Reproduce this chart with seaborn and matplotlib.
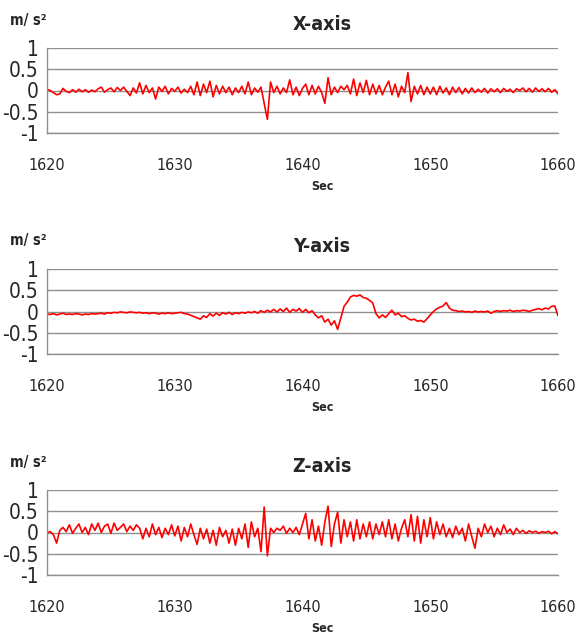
import numpy as np
import pandas as pd
import matplotlib
matplotlib.use("Agg")
import matplotlib.pyplot as plt
import seaborn as sns

# sample times, one reading every 0.25 s from 1620 s to 1660 s
time_s = np.linspace(1620, 1660, 161)

# acceleration, m/s^2 (8 samples = 2 s per row)
x_acc = [
    0.03, 0.0, -0.05, -0.1, -0.08, 0.05, -0.02, -0.05,
    0.02, -0.04, 0.03, -0.03, 0.02, -0.04, 0.01, -0.03,
    0.04, 0.08, -0.04, 0.02, 0.06, -0.03, 0.07, 0.0,
    0.08, -0.02, -0.12, 0.06, -0.06, 0.18, -0.08, 0.12,
    -0.05, 0.06, -0.2, 0.08, -0.02, 0.1, -0.08, 0.05,
    -0.02, 0.08, -0.06, 0.03, -0.05, 0.1, -0.1, 0.2,
    -0.12, 0.15, -0.05, 0.22, -0.15, 0.12, -0.08, 0.1,
    -0.05, 0.08, -0.1, 0.06, -0.05, 0.1, -0.08, 0.2,
    -0.1, 0.06, -0.04, 0.08, -0.3, -0.68, 0.2, -0.05,
    0.1, -0.08, 0.06, -0.05, 0.25, -0.1, 0.08, -0.12,
    0.05, 0.15, -0.1, 0.12, -0.08, 0.1, -0.05, -0.3,
    0.3, -0.1, 0.08, -0.05, 0.1, 0.02, 0.12, -0.08,
    0.27, -0.12, 0.18, -0.05, 0.24, -0.1, 0.15, -0.08,
    0.12, -0.1, 0.08, 0.22, -0.1, 0.15, -0.15, 0.1,
    -0.05, 0.42, -0.26, 0.1, -0.08, 0.12, -0.1, 0.08,
    -0.08, 0.08, -0.1, 0.1, -0.06, 0.06, -0.1, 0.08,
    -0.05, 0.07, -0.08, 0.05, -0.06, 0.06, -0.05, 0.03,
    -0.04, 0.05, -0.06, 0.04, -0.03, 0.04, -0.05, 0.05,
    -0.02, 0.03, -0.05, 0.04, 0.0, 0.06, -0.03, 0.05,
    -0.04, 0.06, -0.02, 0.04, -0.03, 0.05, -0.04, 0.02,
    -0.08,
]

y_acc = [
    -0.06, -0.07, -0.05, -0.08, -0.06, -0.04, -0.07, -0.06,
    -0.07, -0.05, -0.06, -0.08, -0.06, -0.07, -0.05, -0.06,
    -0.05, -0.04, -0.06, -0.03, -0.04, -0.02, -0.03, -0.01,
    -0.02, -0.03, -0.01, -0.02, -0.03, -0.02, -0.04, -0.03,
    -0.05, -0.03, -0.04, -0.06, -0.04, -0.05, -0.03, -0.05,
    -0.04, -0.03, -0.02, -0.05, -0.06, -0.09, -0.12, -0.15,
    -0.18, -0.1, -0.14, -0.05, -0.11, -0.04, -0.09, -0.03,
    -0.06, -0.02, -0.07, -0.03, -0.05, -0.02, -0.04, -0.01,
    -0.03, 0.0, -0.04, 0.02, -0.02, 0.03, -0.01, 0.05,
    -0.01, 0.06, 0.0, 0.08, -0.02, 0.05, 0.01, 0.07,
    -0.02, 0.05, -0.03, 0.02, -0.08, -0.15, -0.1, -0.25,
    -0.18, -0.32, -0.22, -0.42, -0.15, 0.12, 0.22, 0.34,
    0.38, 0.36, 0.39, 0.33, 0.31, 0.26, 0.2, -0.05,
    -0.15, -0.08, -0.14, -0.05, 0.03, -0.08, -0.04, -0.12,
    -0.1, -0.16, -0.2, -0.18, -0.23, -0.21, -0.25, -0.17,
    -0.08, 0.0, 0.06, 0.1, 0.13, 0.21, 0.08, 0.03,
    0.02, 0.0, 0.01, -0.01, 0.0, -0.02, 0.01, -0.01,
    0.0, -0.01, 0.01, -0.04, 0.0, 0.02, 0.0, 0.02,
    0.01, 0.03, 0.0, 0.02, 0.01, 0.03, 0.02, 0.0,
    0.03, 0.05, 0.07, 0.04, 0.08, 0.06, 0.12, 0.13,
    -0.1,
]

z_acc = [
    0.0, 0.02, -0.05, -0.25, 0.05, 0.12, 0.02, 0.18,
    -0.02, 0.1, 0.2, 0.0, 0.12, -0.05, 0.2, 0.05,
    0.22, 0.0, 0.15, 0.2, -0.02, 0.22, 0.05, 0.12,
    0.2, 0.02, 0.15, 0.05, 0.18, 0.1, -0.15, 0.1,
    -0.1, 0.2, -0.05, 0.12, -0.12, 0.1, -0.05, 0.18,
    -0.08, 0.15, -0.2, 0.12, -0.1, 0.2, -0.05, -0.28,
    0.1, -0.15, 0.08, -0.25, 0.05, -0.3, 0.12, -0.1,
    0.05, -0.25, 0.08, -0.3, 0.1, -0.15, 0.2, -0.35,
    0.25, -0.1, 0.1, -0.45, 0.6, -0.55, 0.1, 0.0,
    0.1, 0.05, 0.15, -0.02, 0.1, 0.0, 0.12, -0.05,
    0.2, 0.45, -0.15, 0.3, -0.2, 0.15, -0.3, 0.25,
    0.62, -0.33, 0.2, 0.48, -0.25, 0.3, -0.1, 0.25,
    -0.2, 0.3, -0.15, 0.2, -0.1, 0.25, -0.15, 0.2,
    -0.05, 0.25, -0.1, 0.3, -0.15, 0.2, -0.2, 0.1,
    0.3, -0.1, 0.42, -0.2, 0.38, -0.25, 0.3, -0.1,
    0.35, -0.15, 0.25, -0.05, 0.2, -0.1, 0.1, -0.12,
    0.15, -0.05, 0.1, -0.2, 0.2, -0.1, -0.37, 0.1,
    -0.1, 0.2, 0.0, 0.15, -0.1, 0.1, -0.05, 0.18,
    0.0, 0.08, -0.05, 0.1, 0.0, 0.05, -0.02, 0.04,
    0.0, 0.03, -0.02, 0.02, 0.0, 0.03, -0.03, 0.02,
    -0.03,
]

panel_titles = ["X-axis", "Y-axis", "Z-axis"]
x_ticks = [1620, 1630, 1640, 1650, 1660]
y_ticks = [-1, -0.5, 0, 0.5, 1]
y_tick_labels = ["-1", "-0.5", "0", "0.5", "1"]

sns.set_style("white")
plt.rcParams["font.family"] = ["DejaVu Sans"]
plt.rcParams["font.stretch"] = "condensed"

W, H = 576, 638
fig = plt.figure(figsize=(W / 100, H / 100), dpi=100)
grid_col = "#8f8f8f"

# bottom edge of each plot area, in pixels from the top
bottoms = [133, 354, 575]

for title, vals, bot in zip(panel_titles, [x_acc, y_acc, z_acc], bottoms):
    ax = fig.add_axes([47 / W, 1 - bot / H, 511 / W, 85 / H])
    df = pd.DataFrame({"t": time_s, "acc": vals})
    sns.lineplot(data=df, x="t", y="acc", ax=ax, color="#ff0000", linewidth=1.2)

    ax.set_xlim(1620, 1660)
    ax.set_ylim(-1, 1)
    ax.set_xticks(x_ticks)
    ax.set_xticklabels([str(v) for v in x_ticks])
    ax.set_yticks(y_ticks)
    ax.set_yticklabels(y_tick_labels)
    ax.grid(axis="y", color=grid_col, linewidth=1)
    ax.grid(axis="x", visible=False)
    for s in ["top", "right"]:
        ax.spines[s].set_visible(False)
    for s in ["left", "bottom"]:
        ax.spines[s].set_color(grid_col)
        ax.spines[s].set_linewidth(1)

    ax.tick_params(axis="x", length=0, pad=18, labelsize=11.5)
    ax.tick_params(axis="y", length=5, width=1, color=grid_col, pad=1, labelsize=15)

    ax.set_xlabel("Sec", fontsize=9, fontweight="bold")
    ax.xaxis.set_label_coords(0.54, -0.55)
    ax.set_ylabel("")

    fig.text(322 / W, 1 - (bot - 108) / H, title, ha="center", va="center",
             fontsize=14, fontweight="bold")
    fig.text(28 / W, 1 - (bot - 113) / H, "m/ s²", ha="center", va="center",
             fontsize=10.5, fontweight="bold")

fig.savefig("out.png", dpi=100)
